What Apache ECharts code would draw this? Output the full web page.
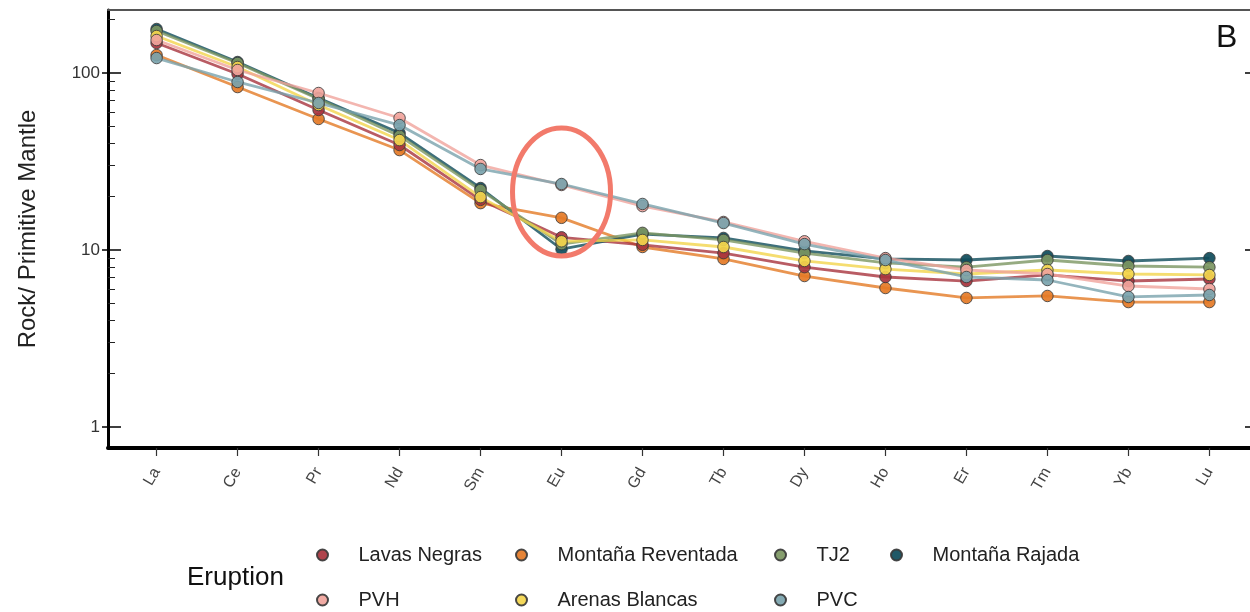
<!DOCTYPE html>
<html><head><meta charset="utf-8">
<script src="https://cdn.jsdelivr.net/npm/echarts@6/dist/echarts.min.js"></script>
<style>html,body{margin:0;padding:0;background:#fff}#c{width:1250px;height:612px}</style>
</head><body><div id="c"></div>
<script>
const categories = ['La','Ce','Pr','Nd','Sm','Eu','Gd','Tb','Dy','Ho','Er','Tm','Yb','Lu'];

const lavasNegras      = [147.7, 98.7, 61.8, 39.2, 19.2, 11.8, 10.7, 9.6, 8.0, 7.04, 6.68, 7.23, 6.68, 6.86];
const montanaReventada = [126.4, 83.3, 55.0, 36.7, 18.4, 15.2, 10.4, 8.9, 7.13, 6.1, 5.36, 5.5, 5.08, 5.08];
const tj2              = [172.7, 113.9, 71.3, 44.1, 21.8, 10.8, 12.5, 11.4, 9.6, 8.45, 8.0, 8.78, 8.12, 8.0];
const montanaRajada    = [177.3, 115.4, 72.2, 45.8, 22.4, 10.1, 12.3, 11.7, 9.9, 8.9, 8.78, 9.25, 8.67, 9.0];
const pvh              = [153.6, 104.0, 77.1, 55.7, 30.2, 23.3, 17.7, 14.4, 11.2, 9.0, 7.71, 7.32, 6.26, 6.02];
const arenasBlancas    = [161.8, 108.1, 66.0, 41.8, 19.9, 11.2, 11.4, 10.4, 8.67, 7.8, 7.32, 7.71, 7.32, 7.23];
const pvc              = [121.5, 89.0, 67.7, 50.8, 28.7, 23.6, 18.2, 14.2, 10.8, 8.78, 7.04, 6.77, 5.43, 5.57];

const majorTicks = [1, 10, 100];
const minorTicks = [2, 3, 4, 5, 6, 7, 8, 9, 20, 30, 40, 50, 60, 70, 80, 90, 200];
const annotation = { category: 'Eu', value: 21.3 };

const seriesDefs = [
  { name: 'Montaña Reventada', data: montanaReventada, color: '#e47a26' },
  { name: 'Lavas Negras',      data: lavasNegras,      color: '#a8333d' },
  { name: 'Montaña Rajada',    data: montanaRajada,    color: '#0e4b5a' },
  { name: 'TJ2',               data: tj2,              color: '#7c9662' },
  { name: 'Arenas Blancas',    data: arenasBlancas,    color: '#f3d54c' },
  { name: 'PVH',               data: pvh,              color: '#f0a49c' },
  { name: 'PVC',               data: pvc,              color: '#79a3ad' }
];
// legend grid: [name, column, row]
const legendItems = [
  ['Lavas Negras', 0, 0], ['Montaña Reventada', 1, 0], ['TJ2', 2, 0], ['Montaña Rajada', 3, 0],
  ['PVH', 0, 1], ['Arenas Blancas', 1, 1], ['PVC', 2, 1]
];
const legendColLeft = [316, 515, 774, 890];
const legendRowTop = [544, 589];

const FONT = 'Liberation Sans, Arial, sans-serif';
const YMIN = 0.761, YMAX = 227, XMIN = -0.6, XMAX = 13.6;
const idx = categories.map((_, i) => i);

const chart = echarts.init(document.getElementById('c'), null, { renderer: 'canvas' });

const lineSeries = seriesDefs.map(s => ({
  name: s.name, type: 'line', xAxisIndex: 0, yAxisIndex: 0,
  data: s.data.map((v, i) => [i, v]),
  showSymbol: false, symbol: 'none', silent: true, z: 2,
  lineStyle: { color: s.color, width: 2.8, opacity: 0.8 },
  itemStyle: { color: s.color },
  animation: false
}));
const pointSeries = seriesDefs.map(s => ({
  name: s.name, type: 'scatter', xAxisIndex: 0, yAxisIndex: 0,
  data: s.data.map((v, i) => [i, v]),
  symbol: 'circle', symbolSize: 11.5, z: 3,
  itemStyle: { color: s.color, borderColor: '#3a3a3a', borderWidth: 0.9, opacity: 0.92 },
  animation: false
}));

const logAxisBase = { type: 'log', min: YMIN, max: YMAX, splitLine: { show: false }, axisLabel: { show: false } };

const option = {
  backgroundColor: '#fff',
  animation: false,
  grid: { left: 108, right: -8, top: 10, bottom: 164, containLabel: false, outerBoundsMode: 'none' },
  xAxis: [
    { type: 'value', min: XMIN, max: XMAX, position: 'bottom',
      axisLine: { show: true, onZero: false, lineStyle: { color: '#000', width: 4 } },
      axisTick: { show: true, customValues: idx, length: 8, lineStyle: { color: '#333', width: 1.2 } },
      axisLabel: { customValues: idx, formatter: v => categories[Math.round(v)], rotate: 60, margin: 21,
                   fontSize: 16, color: '#444', fontFamily: FONT },
      splitLine: { show: false } },
    { type: 'value', min: XMIN, max: XMAX, position: 'top',
      axisLine: { show: true, onZero: false, lineStyle: { color: '#555', width: 2 } },
      axisTick: { show: false }, axisLabel: { show: false }, splitLine: { show: false } }
  ],
  yAxis: [
    Object.assign({}, logAxisBase, { position: 'left',
      axisLine: { show: true, onZero: false, lineStyle: { color: '#000', width: 3 } },
      axisTick: { show: true, customValues: majorTicks, length: 6, lineStyle: { color: '#000', width: 1.5 } },
      axisLabel: { show: true, customValues: majorTicks, fontSize: 17, color: '#333', margin: 8, fontFamily: FONT },
      name: 'Rock/ Primitive Mantle', nameLocation: 'middle', nameGap: 68,
      nameTextStyle: { fontSize: 24, color: '#222', fontFamily: FONT } }),
    Object.assign({}, logAxisBase, { position: 'left', axisLine: { show: false, onZero: false },
      axisTick: { show: true, inside: true, customValues: majorTicks, length: 13, lineStyle: { color: '#000', width: 1.5 } } }),
    Object.assign({}, logAxisBase, { position: 'left', axisLine: { show: false, onZero: false },
      axisTick: { show: true, inside: true, customValues: minorTicks, length: 7, lineStyle: { color: '#222', width: 1 } } }),
    Object.assign({}, logAxisBase, { position: 'right',
      axisLine: { show: true, onZero: false, lineStyle: { color: '#000', width: 3 } },
      axisTick: { show: true, inside: true, customValues: majorTicks, length: 13, lineStyle: { color: '#000', width: 1.5 } } })
  ],
  legend: legendItems.map(([name, col, row]) => ({
    orient: 'horizontal', left: legendColLeft[col], top: legendRowTop[row],
    data: [name], icon: 'circle', itemWidth: 62, itemHeight: 11, padding: 0,
    textStyle: { fontSize: 20, lineHeight: 22, color: '#222', fontFamily: FONT },
    selectedMode: false
  })),
  graphic: [
    { type: 'text', left: 187, top: 565, style: { text: 'Eruption', fontSize: 26, fill: '#111', fontFamily: FONT } },
    { type: 'text', left: 1216, top: 22, style: { text: 'B', fontSize: 32, fill: '#111', fontFamily: FONT } }
  ],
  series: pointSeries.concat(lineSeries)
};
chart.setOption(option);

const ctr = chart.convertToPixel({ xAxisIndex: 0, yAxisIndex: 0 }, [categories.indexOf(annotation.category), annotation.value]);
chart.setOption({ graphic: option.graphic.concat([
  { type: 'ellipse', shape: { cx: ctr[0], cy: ctr[1], rx: 49, ry: 64 }, z: 10,
    style: { fill: 'none', stroke: '#f27a6b', lineWidth: 5 } }
]) });
</script>
</body></html>
